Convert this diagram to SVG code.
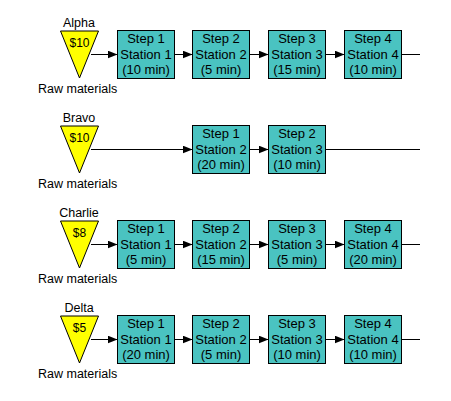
<svg xmlns="http://www.w3.org/2000/svg" width="451" height="401" viewBox="0 0 451 401">
<style>
text{font-family:"Liberation Sans",Arial,sans-serif;font-size:12.5px;fill:#000}
.c{text-anchor:middle}
.v{font-size:12px;text-anchor:middle}
.b text{font-size:13px;text-anchor:middle}
.box{fill:#4AC3C1;stroke:#000;stroke-width:1}
.tri{fill:#FFFF00;stroke:#000;stroke-width:1}
.ln{stroke:#000;stroke-width:1;fill:none}
</style>
<defs>
<marker id="ah" markerUnits="userSpaceOnUse" markerWidth="10" markerHeight="8" refX="10" refY="4" orient="auto">
<path d="M0,0 L10,4 L0,8 z" fill="#000"/>
</marker>
</defs>
<rect width="451" height="401" fill="#fff"/>
<g id="connectors">
<line class="ln" x1="91" y1="54.5" x2="117.5" y2="54.5" marker-end="url(#ah)"/>
<line class="ln" x1="174.5" y1="54.5" x2="192.5" y2="54.5" marker-end="url(#ah)"/>
<line class="ln" x1="249.5" y1="54.5" x2="268.5" y2="54.5" marker-end="url(#ah)"/>
<line class="ln" x1="325.5" y1="54.5" x2="344.5" y2="54.5" marker-end="url(#ah)"/>
<line class="ln" x1="401.5" y1="54.5" x2="420" y2="54.5"/>
<line class="ln" x1="91" y1="149.5" x2="192.5" y2="149.5" marker-end="url(#ah)"/>
<line class="ln" x1="249.5" y1="149.5" x2="268.5" y2="149.5" marker-end="url(#ah)"/>
<line class="ln" x1="325.5" y1="149.5" x2="420" y2="149.5"/>
<line class="ln" x1="91" y1="244.5" x2="117.5" y2="244.5" marker-end="url(#ah)"/>
<line class="ln" x1="174.5" y1="244.5" x2="192.5" y2="244.5" marker-end="url(#ah)"/>
<line class="ln" x1="249.5" y1="244.5" x2="268.5" y2="244.5" marker-end="url(#ah)"/>
<line class="ln" x1="325.5" y1="244.5" x2="344.5" y2="244.5" marker-end="url(#ah)"/>
<line class="ln" x1="401.5" y1="244.5" x2="420" y2="244.5"/>
<line class="ln" x1="91" y1="339.5" x2="117.5" y2="339.5" marker-end="url(#ah)"/>
<line class="ln" x1="174.5" y1="339.5" x2="192.5" y2="339.5" marker-end="url(#ah)"/>
<line class="ln" x1="249.5" y1="339.5" x2="268.5" y2="339.5" marker-end="url(#ah)"/>
<line class="ln" x1="325.5" y1="339.5" x2="344.5" y2="339.5" marker-end="url(#ah)"/>
<line class="ln" x1="401.5" y1="339.5" x2="420" y2="339.5"/>
</g>

<g id="alpha">
<text class="c" x="79" y="27">Alpha</text>
<polygon class="tri" points="60.5,31 98.5,31 79.5,78"/>
<text class="v" x="79.5" y="47">$10</text>
<text x="38" y="93">Raw materials</text>
</g>
<g id="alpha-s1" class="b"><rect class="box" x="117.5" y="30.5" width="57" height="48"/><text x="146" y="43">Step 1</text><text x="146" y="59">Station 1</text><text x="146" y="74">(10 min)</text></g>
<g id="alpha-s2" class="b"><rect class="box" x="192.5" y="30.5" width="57" height="48"/><text x="221" y="43">Step 2</text><text x="221" y="59">Station 2</text><text x="221" y="74">(5 min)</text></g>
<g id="alpha-s3" class="b"><rect class="box" x="268.5" y="30.5" width="57" height="48"/><text x="297" y="43">Step 3</text><text x="297" y="59">Station 3</text><text x="297" y="74">(15 min)</text></g>
<g id="alpha-s4" class="b"><rect class="box" x="344.5" y="30.5" width="57" height="48"/><text x="373" y="43">Step 4</text><text x="373" y="59">Station 4</text><text x="373" y="74">(10 min)</text></g>

<g id="bravo">
<text class="c" x="79" y="122">Bravo</text>
<polygon class="tri" points="60.5,126 98.5,126 79.5,173"/>
<text class="v" x="79.5" y="142">$10</text>
<text x="38" y="188">Raw materials</text>
</g>
<g id="bravo-s1" class="b"><rect class="box" x="192.5" y="125.5" width="57" height="48"/><text x="221" y="138">Step 1</text><text x="221" y="154">Station 2</text><text x="221" y="169">(20 min)</text></g>
<g id="bravo-s2" class="b"><rect class="box" x="268.5" y="125.5" width="57" height="48"/><text x="297" y="138">Step 2</text><text x="297" y="154">Station 3</text><text x="297" y="169">(10 min)</text></g>

<g id="charlie">
<text class="c" x="79" y="217">Charlie</text>
<polygon class="tri" points="60.5,221 98.5,221 79.5,268"/>
<text class="v" x="79.5" y="237">$8</text>
<text x="38" y="283">Raw materials</text>
</g>
<g id="charlie-s1" class="b"><rect class="box" x="117.5" y="220.5" width="57" height="48"/><text x="146" y="233">Step 1</text><text x="146" y="249">Station 1</text><text x="146" y="264">(5 min)</text></g>
<g id="charlie-s2" class="b"><rect class="box" x="192.5" y="220.5" width="57" height="48"/><text x="221" y="233">Step 2</text><text x="221" y="249">Station 2</text><text x="221" y="264">(15 min)</text></g>
<g id="charlie-s3" class="b"><rect class="box" x="268.5" y="220.5" width="57" height="48"/><text x="297" y="233">Step 3</text><text x="297" y="249">Station 3</text><text x="297" y="264">(5 min)</text></g>
<g id="charlie-s4" class="b"><rect class="box" x="344.5" y="220.5" width="57" height="48"/><text x="373" y="233">Step 4</text><text x="373" y="249">Station 4</text><text x="373" y="264">(20 min)</text></g>

<g id="delta">
<text class="c" x="79" y="312">Delta</text>
<polygon class="tri" points="60.5,316 98.5,316 79.5,363"/>
<text class="v" x="79.5" y="332">$5</text>
<text x="38" y="378">Raw materials</text>
</g>
<g id="delta-s1" class="b"><rect class="box" x="117.5" y="315.5" width="57" height="48"/><text x="146" y="328">Step 1</text><text x="146" y="344">Station 1</text><text x="146" y="359">(20 min)</text></g>
<g id="delta-s2" class="b"><rect class="box" x="192.5" y="315.5" width="57" height="48"/><text x="221" y="328">Step 2</text><text x="221" y="344">Station 2</text><text x="221" y="359">(5 min)</text></g>
<g id="delta-s3" class="b"><rect class="box" x="268.5" y="315.5" width="57" height="48"/><text x="297" y="328">Step 3</text><text x="297" y="344">Station 3</text><text x="297" y="359">(10 min)</text></g>
<g id="delta-s4" class="b"><rect class="box" x="344.5" y="315.5" width="57" height="48"/><text x="373" y="328">Step 4</text><text x="373" y="344">Station 4</text><text x="373" y="359">(10 min)</text></g>
</svg>
